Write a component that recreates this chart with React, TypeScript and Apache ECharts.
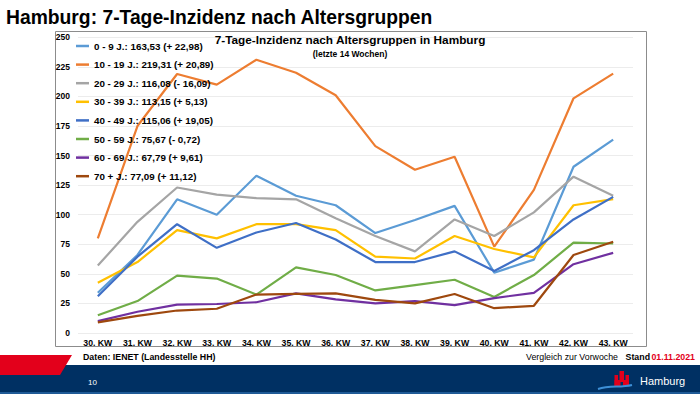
import React, { useEffect, useRef } from "react";
import * as echarts from "echarts";

const weeks = ["30. KW", "31. KW", "32. KW", "33. KW", "34. KW", "35. KW", "36. KW", "37. KW", "38. KW", "39. KW", "40. KW", "41. KW", "42. KW", "43. KW"];
const groups = ["0 - 9 J.", "10 - 19 J.", "20 - 29 J.", "30 - 39 J.", "40 - 49 J.", "50 - 59 J.", "60 - 69 J.", "70 + J."];
const colors = ["#5B9BD5", "#ED7D31", "#A5A5A5", "#FFC000", "#3F6FC6", "#70AD47", "#7030A0", "#9E480E"];

const age0to9 = [34, 66, 113, 100, 133, 116, 108, 84.5, 95.5, 107.5, 51, 62, 140.55, 163.53];
const age10to19 = [80, 175, 219, 210, 231, 220, 201, 158, 138, 149, 73, 121, 198.42, 219.31];
const age20to29 = [57, 94, 123, 117, 114, 113, 97, 82, 69, 96, 82, 102, 132.17, 116.08];
const age30to39 = [42.5, 60, 87, 80, 92, 92, 87, 64.5, 63, 82, 71, 64, 108.02, 113.15];
const age40to49 = [31, 64.5, 92, 72, 85, 93, 79, 60, 60, 69, 52.5, 70, 96.01, 115.06];
const age50to59 = [15, 27, 48.5, 46, 32.5, 55.5, 49, 36, 40.5, 45, 30.5, 49, 76.39, 75.67];
const age60to69 = [10, 18, 24, 24.5, 26, 33.5, 28.5, 25, 27, 23.5, 29.5, 34, 58.18, 67.79];
const age70plus = [9, 14.5, 19, 20.5, 32.5, 33, 33.5, 28, 25, 33, 21, 23, 65.97, 77.09];

const seriesValues = [age0to9, age10to19, age20to29, age30to39, age40to49, age50to59, age60to69, age70plus];

const FONT = "'Liberation Sans', Arial, Helvetica, sans-serif";

function fmt(n: number): string {
  return n.toFixed(2).replace(".", ",");
}

function legendName(label: string, vals: number[]): string {
  const last = vals[vals.length - 1];
  const prev = vals[vals.length - 2];
  const d = Math.round((last - prev) * 100) / 100;
  const sign = d >= 0 ? "+ " : "- ";
  return `${label}: ${fmt(last)} (${sign}${fmt(Math.abs(d))})`;
}

export default function App() {
  const ref = useRef<HTMLDivElement>(null);
  useEffect(() => {
    if (!ref.current) return;
    const chart = echarts.init(ref.current, undefined, { renderer: "svg" });
    const names = groups.map((g, i) => legendName(g, seriesValues[i]));
    chart.setOption({
      animation: false,
      backgroundColor: "#ffffff",
      textStyle: { fontFamily: FONT },
      title: {
        text: "7-Tage-Inzidenz nach Altersgruppen in Hamburg",
        subtext: "(letzte 14 Wochen)",
        left: 350,
        textAlign: "center",
        top: 34,
        padding: 0,
        itemGap: 3,
        textStyle: { fontFamily: FONT, fontSize: 11.8, fontWeight: "bold", color: "#000" },
        subtextStyle: { fontFamily: FONT, fontSize: 8.5, fontWeight: "bold", color: "#000" },
      },
      legend: {
        orient: "vertical",
        left: 76,
        top: 40,
        padding: 0,
        itemWidth: 13,
        itemHeight: 2.5,
        itemGap: 6.6,
        icon: "rect",
        data: names,
        textStyle: { fontFamily: FONT, fontSize: 9.8, fontWeight: "bold", color: "#000", lineHeight: 12 },
      },
      grid: { left: 78, right: 67, top: 37.3, bottom: 61, containLabel: false },
      xAxis: {
        type: "category",
        data: weeks,
        boundaryGap: true,
        axisLine: { show: false },
        axisTick: { show: false },
        axisLabel: { fontFamily: FONT, fontSize: 8.7, fontWeight: "bold", color: "#000", margin: 5 },
      },
      yAxis: {
        type: "value",
        min: 0,
        max: 250,
        interval: 25,
        axisLine: { show: false },
        axisTick: { show: false },
        axisLabel: { fontFamily: FONT, fontSize: 8.5, fontWeight: "bold", color: "#000", margin: 8 },
        splitLine: { lineStyle: { color: "#ececec", width: 1 } },
      },
      series: seriesValues.map((vals, i) => ({
        name: names[i],
        type: "line",
        data: vals,
        symbol: "none",
        lineStyle: { color: colors[i], width: 2.2 },
        itemStyle: { color: colors[i] },
      })),
      graphic: [
        {
          type: "text",
          x: 6,
          y: 17,
          style: {
            text: "Hamburg: 7-Tage-Inzidenz nach Altersgruppen",
            font: `bold 19.3px ${FONT}`,
            fill: "#000",
            textVerticalAlign: "middle",
          },
        },
        {
          type: "rect",
          shape: { x: 55.5, y: 31.5, width: 591, height: 315 },
          style: { fill: "none", stroke: "#8c8c8c", lineWidth: 1 },
          z: -1,
        },
        {
          type: "text",
          x: 83,
          y: 357,
          style: { text: "Daten: IENET (Landesstelle HH)", font: `bold 8.8px ${FONT}`, fill: "#000", textVerticalAlign: "middle" },
        },
        {
          type: "text",
          x: 618,
          y: 357,
          style: { text: "Vergleich zur Vorwoche", font: `8.8px ${FONT}`, fill: "#000", textAlign: "right", textVerticalAlign: "middle" },
        },
        {
          type: "text",
          x: 650,
          y: 357,
          style: { text: "Stand", font: `bold 8.8px ${FONT}`, fill: "#000", textAlign: "right", textVerticalAlign: "middle" },
        },
        {
          type: "text",
          x: 695,
          y: 357,
          style: { text: "01.11.2021", font: `bold 8.8px ${FONT}`, fill: "#e3001b", textAlign: "right", textVerticalAlign: "middle" },
        },
        {
          type: "rect",
          shape: { x: 0, y: 365, width: 700, height: 29 },
          style: { fill: "#003063" },
        },
        {
          type: "rect",
          shape: { x: 0, y: 392, width: 700, height: 2 },
          style: { fill: "#1f5a96" },
        },
        {
          type: "polygon",
          shape: { points: [[0, 355], [72, 355], [60, 375], [0, 375]] },
          style: { fill: "#e3001b" },
        },
        {
          type: "text",
          x: 88,
          y: 382,
          style: { text: "10", font: `8px ${FONT}`, fill: "#ffffff", textVerticalAlign: "middle" },
        },
        { type: "rect", shape: { x: 619.5, y: 371, width: 4.5, height: 15 }, style: { fill: "#e3001b" } },
        { type: "rect", shape: { x: 614.5, y: 375, width: 3.5, height: 11 }, style: { fill: "#e3001b" } },
        { type: "rect", shape: { x: 625.5, y: 375, width: 3.5, height: 11 }, style: { fill: "#e3001b" } },
        { type: "rect", shape: { x: 614.5, y: 380, width: 14.5, height: 6 }, style: { fill: "#e3001b" } },
        { type: "rect", shape: { x: 620.5, y: 382, width: 2.5, height: 4 }, style: { fill: "#003063" } },
        {
          type: "bezierCurve",
          shape: { x1: 598, y1: 389, x2: 632, y2: 385, cpx1: 610, cpy1: 385, cpx2: 620, cpy2: 388 },
          style: { stroke: "#3d8fd6", lineWidth: 2, fill: "none" },
        },
        {
          type: "text",
          x: 640,
          y: 381,
          style: { text: "Hamburg", font: `11px ${FONT}`, fill: "#ffffff", textVerticalAlign: "middle" },
        },
      ],
    });
    return () => chart.dispose();
  }, []);
  return (
    <div
      ref={ref}
      style={{ position: "absolute", left: 0, top: 0, width: 700, height: 394, background: "#fff" }}
    />
  );
}
